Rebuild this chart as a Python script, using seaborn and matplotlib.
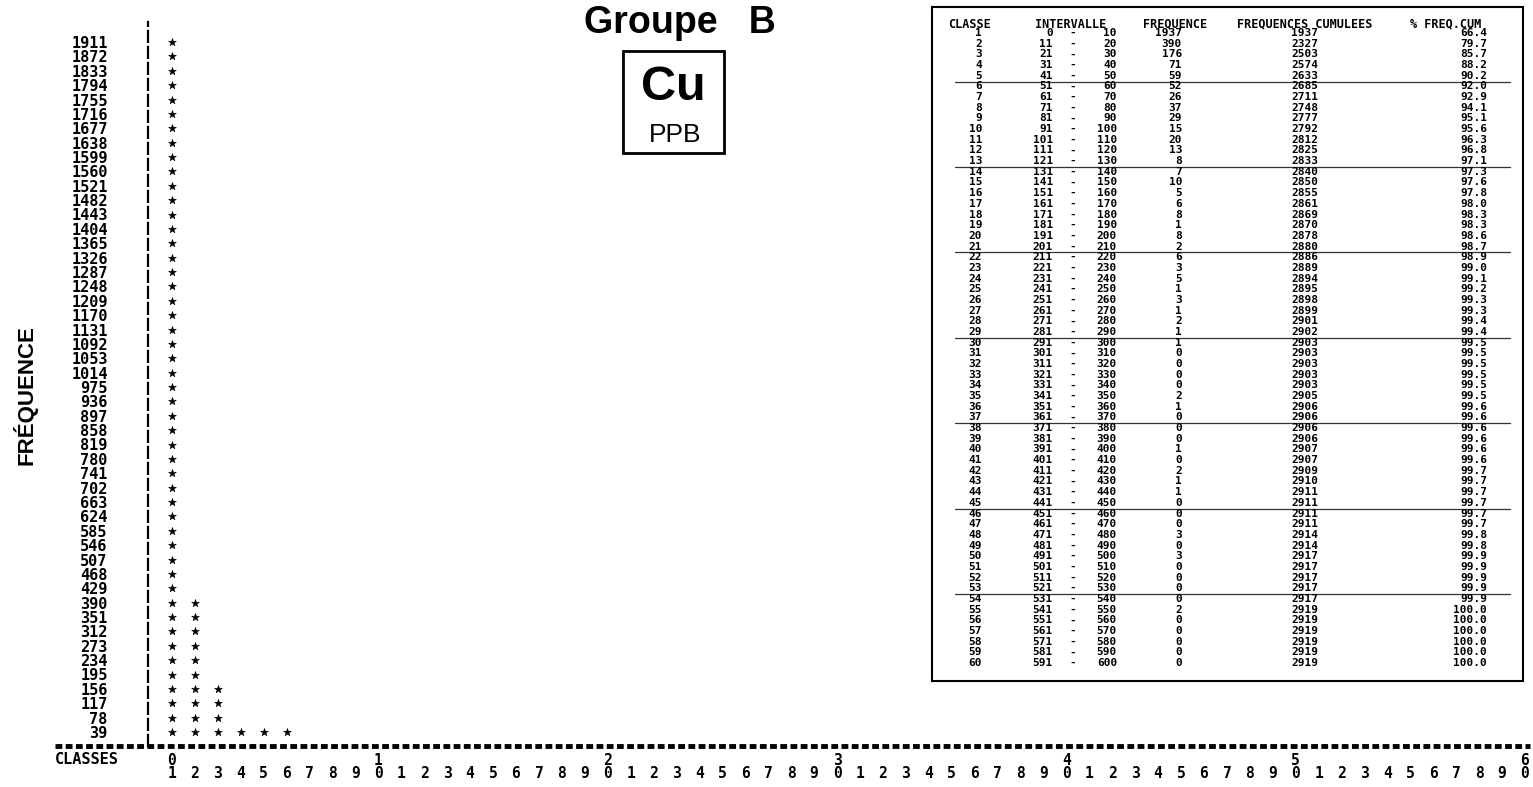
import numpy as np
import pandas as pd
import matplotlib
matplotlib.use("Agg")
import matplotlib.pyplot as plt
from matplotlib.patches import Rectangle
import seaborn as sns

# ---------------- data ----------------
classes = list(range(1, 61))
interval_low = [0] + list(range(11, 592, 10))
interval_high = list(range(10, 601, 10))
frequencies = [1937, 390, 176, 71, 59, 52, 26, 37, 29, 15, 20, 13, 8, 7, 10, 5, 6, 8, 1, 8,
               2, 6, 3, 5, 1, 3, 1, 2, 1, 1, 0, 0, 0, 0, 2, 1, 0, 0, 0, 1,
               0, 2, 1, 1, 0, 0, 0, 3, 0, 3, 0, 0, 0, 0, 2, 0, 0, 0, 0, 0]
cumulative = [1937, 2327, 2503, 2574, 2633, 2685, 2711, 2748, 2777, 2792,
              2812, 2825, 2833, 2840, 2850, 2855, 2861, 2869, 2870, 2878,
              2880, 2886, 2889, 2894, 2895, 2898, 2899, 2901, 2902, 2903,
              2903, 2903, 2903, 2903, 2905, 2906, 2906, 2906, 2906, 2907,
              2907, 2909, 2910, 2911, 2911, 2911, 2911, 2914, 2914, 2917,
              2917, 2917, 2917, 2917, 2919, 2919, 2919, 2919, 2919, 2919]
pct_cum = [66.4, 79.7, 85.7, 88.2, 90.2, 92.0, 92.9, 94.1, 95.1, 95.6,
           96.3, 96.8, 97.1, 97.3, 97.6, 97.8, 98.0, 98.3, 98.3, 98.6,
           98.7, 98.9, 99.0, 99.1, 99.2, 99.3, 99.3, 99.4, 99.4, 99.5,
           99.5, 99.5, 99.5, 99.5, 99.5, 99.6, 99.6, 99.6, 99.6, 99.6,
           99.6, 99.7, 99.7, 99.7, 99.7, 99.7, 99.7, 99.8, 99.8, 99.9,
           99.9, 99.9, 99.9, 99.9, 100.0, 100.0, 100.0, 100.0, 100.0, 100.0]
star_unit = 39
freq_ticks = [39, 78, 117, 156, 195, 234, 273, 312, 351, 390, 429, 468, 507, 546, 585,
              624, 663, 702, 741, 780, 819, 858, 897, 936, 975, 1014, 1053, 1092, 1131,
              1170, 1209, 1248, 1287, 1326, 1365, 1404, 1443, 1482, 1521, 1560, 1599,
              1638, 1677, 1716, 1755, 1794, 1833, 1872, 1911]
title = "Groupe   B"
element = "Cu"
unit = "PPB"
ylabel = "FRÉQUENCE"
xlabel = "CLASSES"
table_headers = ["CLASSE", "INTERVALLE", "FREQUENCE", "FREQUENCES CUMULEES", "% FREQ.CUM"]

# stars of the printer histogram
rows = []
for c, f in zip(classes, frequencies):
    for k in range(1, f // star_unit + 1):
        rows.append({"classe": c, "freq": k * star_unit})
stars = pd.DataFrame(rows)

# ---------------- figure ----------------
sns.set_style("white")
plt.rcParams.update({"text.color": "black", "axes.labelcolor": "black",
                     "xtick.color": "black", "ytick.color": "black"})
W, H = 1533, 787
fig = plt.figure(figsize=(W / 100, H / 100), dpi=100)
MONO = "DejaVu Sans Mono"
SANS = "Liberation Sans"


def fx(px):
    return px / W


def fy(py):
    return 1 - py / H


ax = fig.add_axes([fx(148), fy(746), fx(W - 148), (746 - 22) / H])
px_per_class = (1525 - 172) / 59
freq_per_px = star_unit / 14.375
ax.set_xlim(1 - (172 - 148) / px_per_class, 1 + (W - 172) / px_per_class)
ax.set_ylim(star_unit - (746 - 732) * freq_per_px, star_unit + (732 - 22) * freq_per_px)

sns.scatterplot(data=stars, x="classe", y="freq", marker="*", s=34, color="black",
                edgecolor="black", linewidth=0.4, ax=ax, legend=False, zorder=3)

for s in ["top", "right", "bottom"]:
    ax.spines[s].set_visible(False)
ax.spines["left"].set_linestyle((0, (5, 2.2)))
ax.spines["left"].set_linewidth(1.6)
ax.spines["left"].set_color("black")

# bottom printer line
y0 = ax.get_ylim()[0]
x_left = 1 - (172 - 55) / px_per_class
x_right = 1 + (1530 - 172) / px_per_class
ax.plot([x_left, x_right], [y0, y0], color="black", lw=3.5, linestyle=(0, (1.4, 0.7)),
        clip_on=False, zorder=4)

ax.set_yticks(freq_ticks)
ax.set_yticklabels([str(v) for v in freq_ticks], fontfamily=MONO, fontweight="bold",
                   fontsize=11, color="black")
ax.tick_params(axis="y", length=0, pad=29)

xt_labels = []
for c in classes:
    if c == 1:
        xt_labels.append("0\n1")
    elif c % 10 == 0:
        xt_labels.append(f"{c // 10}\n0")
    else:
        xt_labels.append(f"\n{c % 10}")
ax.set_xticks(classes)
ax.set_xticklabels(xt_labels, fontfamily=MONO, fontweight="bold", fontsize=10.5,
                   color="black")
for lbl in ax.get_xticklabels():
    lbl.set_linespacing(0.85)
ax.tick_params(axis="x", length=0, pad=5)
ax.set_xlabel("")
ax.set_ylabel("")

fig.text(fx(55), fy(760), xlabel, fontfamily=MONO, fontweight="bold", fontsize=11,
         ha="left", va="center", color="black")
fig.text(fx(25), fy(395), ylabel, fontfamily=SANS, fontweight="bold", fontsize=16,
         rotation=90, ha="center", va="center", color="black")

# title and element box
fig.text(fx(680), fy(33), title, fontfamily=SANS, fontweight="bold", fontsize=27,
         ha="center", va="baseline", color="black")
fig.patches.append(Rectangle((fx(623), fy(153)), fx(724 - 623), (153 - 51) / H,
                             transform=fig.transFigure, fill=False, lw=2, ec="black"))
fig.text(fx(673), fy(100), element, fontfamily=SANS, fontweight="bold", fontsize=35,
         ha="center", va="baseline", color="black")
fig.text(fx(675), fy(142), unit, fontfamily=SANS, fontsize=19, ha="center",
         va="baseline", color="black")

# ---------------- listing table ----------------
fig.patches.append(Rectangle((fx(932), fy(681)), fx(1523 - 932), (681 - 7) / H,
                             transform=fig.transFigure, fill=False, lw=1.5, ec="black"))
head_x = [948, 1035, 1143, 1237, 1410]
for hx, txt in zip(head_x, table_headers):
    fig.text(fx(hx), fy(24), txt, fontfamily=MONO, fontweight="bold", fontsize=8.5,
             ha="left", va="center", color="black")
row_pitch = (663 - 33) / 59
tkw = dict(fontfamily=MONO, fontweight="bold", fontsize=8, va="center", color="black")
for i, c in enumerate(classes):
    yy = fy(33 + i * row_pitch)
    fig.text(fx(982), yy, str(c), ha="right", **tkw)
    fig.text(fx(1053), yy, str(interval_low[i]), ha="right", **tkw)
    fig.text(fx(1073), yy, "-", ha="center", **tkw)
    fig.text(fx(1117), yy, str(interval_high[i]), ha="right", **tkw)
    fig.text(fx(1182), yy, str(frequencies[i]), ha="right", **tkw)
    fig.text(fx(1318), yy, str(cumulative[i]), ha="right", **tkw)
    fig.text(fx(1487), yy, f"{pct_cum[i]:.1f}", ha="right", **tkw)

for r in [5, 13, 21, 29, 37, 45, 53]:
    yy = fy(33 + (r - 1 + 0.55) * row_pitch)
    fig.add_artist(plt.Line2D([fx(955), fx(1510)], [yy, yy], color="#333333", lw=0.9,
                              transform=fig.transFigure))

fig.savefig("out.png", dpi=100, facecolor="white")
